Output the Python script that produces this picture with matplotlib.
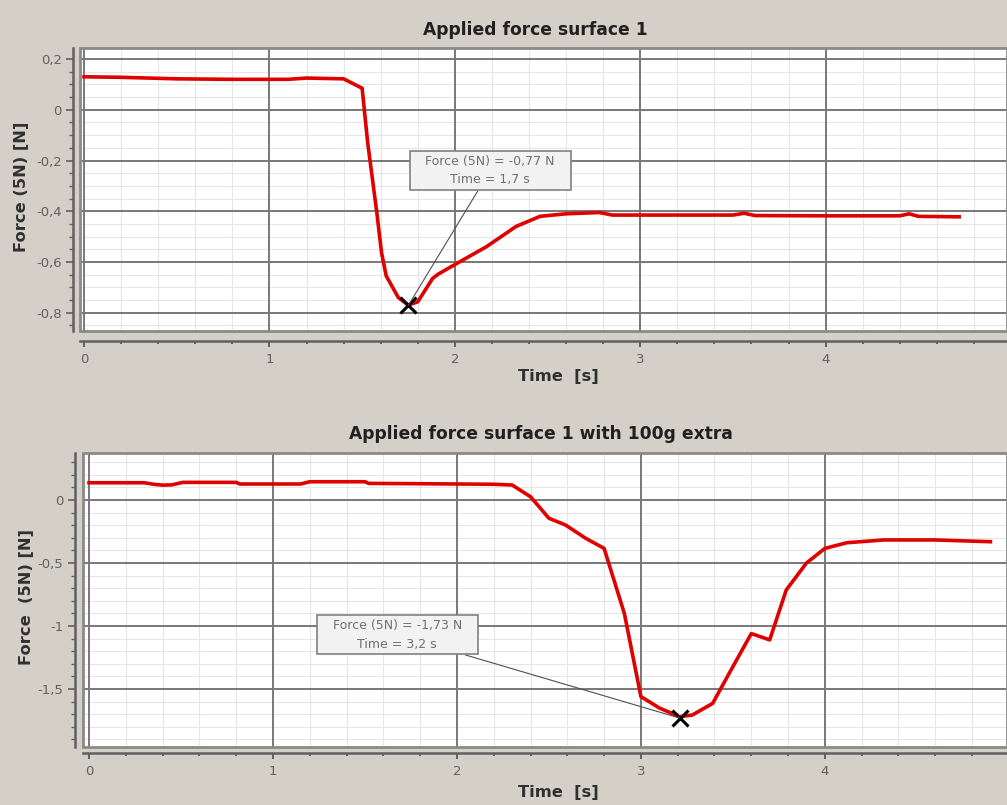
import numpy as np
import matplotlib
matplotlib.use('Agg')
import matplotlib.pyplot as plt
from matplotlib.ticker import MultipleLocator, FuncFormatter
from matplotlib.patches import Rectangle

# surface 1
t1 = [0.0, 0.2, 0.5, 0.8, 1.1, 1.2, 1.4, 1.5, 1.53, 1.58, 1.605, 1.63, 1.695, 1.748, 1.8,
      1.88, 1.91, 2.01, 2.17, 2.33, 2.46, 2.6, 2.78, 2.85, 3.0, 3.5, 3.56, 3.62, 4.0, 4.4,
      4.45, 4.5, 4.72]
f1 = [0.13, 0.128, 0.122, 0.12, 0.12, 0.125, 0.122, 0.085, -0.13, -0.41, -0.565, -0.655,
      -0.74, -0.77, -0.757, -0.665, -0.648, -0.606, -0.54, -0.46, -0.42, -0.41, -0.405,
      -0.415, -0.415, -0.415, -0.408, -0.417, -0.418, -0.418, -0.41, -0.42, -0.422]

# surface 1 with 100g extra
t2 = [0.0, 0.3, 0.35, 0.4, 0.45, 0.51, 0.8, 0.82, 1.15, 1.2, 1.5, 1.52, 2.2, 2.3, 2.4,
      2.5, 2.59, 2.7, 2.8, 2.91, 3.0, 3.1, 3.21, 3.28, 3.39, 3.48, 3.6, 3.7, 3.79, 3.9,
      4.0, 4.12, 4.32, 4.6, 4.9]
f2 = [0.137, 0.137, 0.125, 0.118, 0.12, 0.14, 0.14, 0.127, 0.127, 0.145, 0.145, 0.132,
      0.125, 0.119, 0.026, -0.145, -0.198, -0.304, -0.384, -0.9, -1.56, -1.65, -1.72,
      -1.706, -1.614, -1.375, -1.06, -1.11, -0.714, -0.5, -0.384, -0.339, -0.317, -0.317,
      -0.331]

peak1 = (1.75, -0.77)
peak2 = (3.21, -1.73)
note1 = ['Force (5N) = -0,77 N', 'Time = 1,7 s']
note2 = ['Force (5N) = -1,73 N', 'Time = 3,2 s']

BG = '#d4d0c8'
W, H = 1007, 805


def comma(v, pos):
    s = '%g' % round(v, 6)
    return s.replace('.', ',')


def setup(ax, xlim, ylim, ymaj, ymin, off_left, off_bottom):
    ax.set_facecolor('white')
    ax.set_xlim(*xlim)
    ax.set_ylim(*ylim)
    ax.xaxis.set_major_locator(MultipleLocator(1))
    ax.xaxis.set_minor_locator(MultipleLocator(0.2))
    ax.yaxis.set_major_locator(MultipleLocator(ymaj))
    ax.yaxis.set_minor_locator(MultipleLocator(ymin))
    ax.xaxis.set_major_formatter(FuncFormatter(comma))
    ax.yaxis.set_major_formatter(FuncFormatter(comma))
    ax.grid(which='minor', color='#e6e6e6', lw=0.8, zorder=0)
    # major grid on top of the minor one
    for x in ax.xaxis.get_majorticklocs():
        ax.axvline(x, color='#787878', lw=1.4, zorder=1)
    for y in ax.yaxis.get_majorticklocs():
        ax.axhline(y, color='#787878', lw=1.4, zorder=1)
    ax.set_xlim(*xlim)
    ax.set_ylim(*ylim)
    ax.set_axisbelow(True)
    for s in ['top', 'right']:
        ax.spines[s].set_visible(False)
    ax.spines['left'].set_position(('outward', off_left))
    ax.spines['bottom'].set_position(('outward', off_bottom))
    for s in ['left', 'bottom']:
        ax.spines[s].set_color('#606060')
        ax.spines[s].set_linewidth(1.8)
    ax.tick_params(axis='y', which='major', length=5, width=1.2, color='#606060',
                   labelsize=9.5, labelcolor='#606060', pad=3)
    ax.tick_params(axis='y', which='minor', length=3, width=1, color='#606060')
    ax.tick_params(axis='x', which='major', length=4, width=1.4, color='#606060',
                   labelsize=9.5, labelcolor='#606060', pad=5)
    ax.tick_params(axis='x', which='minor', length=2.5, width=1.4, color='#606060')
    ax.add_patch(Rectangle((0, 0), 1, 1, transform=ax.transAxes, fill=False,
                           ec='#8a8a8a', lw=2, clip_on=False, zorder=5))


def note(ax, xy, xytext, lines):
    ax.plot(*xy, marker='x', color='black', ms=12, mew=2.2, zorder=6)
    text = '   ' + lines[0] + '   \n' + lines[1]
    ax.annotate(text, xy=xy, xytext=xytext, textcoords='data', ha='center', va='center',
                fontsize=9, color='#707070', linespacing=1.55, zorder=7,
                bbox=dict(boxstyle='square,pad=0.3', fc='#f2f2f2', ec='#808080', lw=1.2),
                arrowprops=dict(arrowstyle='-', color='#505050', lw=0.8,
                                shrinkA=0, shrinkB=0))


fig = plt.figure(figsize=(W / 100, H / 100), dpi=100, facecolor=BG)
lab = dict(fontsize=11.7, fontweight='bold', color='#303030', ha='center', va='center')
ttl = dict(fontsize=12.3, fontweight='bold', color='#202020', ha='center', va='center')

# top panel
ax1 = fig.add_axes([80 / W, 1 - 331 / H, (W - 80) / W, 283 / H])
setup(ax1, (-0.0216, 4.978), (-0.872, 0.2435), 0.2, 0.05, 5, 7)
ax1.plot(t1, f1, color='#e00000', lw=2.6, zorder=4)
note(ax1, peak1, (2.19, -0.24), note1)
fig.text(22 / W, 1 - 187 / H, 'Force (5N) [N]', rotation=90, **lab)
fig.text(558 / W, 1 - 377 / H, 'Time  [s]', **lab)
fig.text(535 / W, 1 - 30 / H, 'Applied force surface 1', **ttl)

# bottom panel
ax2 = fig.add_axes([83 / W, 1 - 747 / H, (W - 83) / W, 294 / H])
setup(ax2, (-0.0326, 4.99), (-1.96, 0.373), 0.5, 0.1, 6, 4)
ax2.plot(t2, f2, color='#e00000', lw=2.6, zorder=4)
note(ax2, peak2, (1.675, -1.07), note2)
fig.text(27 / W, 1 - 597 / H, 'Force  (5N) [N]', rotation=90, **lab)
fig.text(558 / W, 1 - 792 / H, 'Time  [s]', **lab)
fig.text(541 / W, 1 - 434 / H, 'Applied force surface 1 with 100g extra', **ttl)

fig.savefig('out.png', dpi=100, facecolor=BG)
